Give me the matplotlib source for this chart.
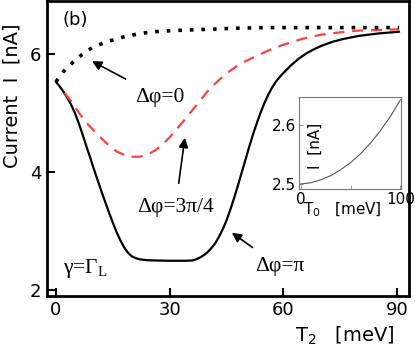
import matplotlib.pyplot as plt

# main panel: current vs T2
t_pi = [0, 1, 2, 3, 4, 5, 6, 7, 8, 9, 10, 11, 12, 13, 14, 15, 16, 17, 18, 19, 20, 21, 22, 24, 26,
        30, 34, 36, 37, 38, 39, 40, 41, 42, 43, 44, 45, 46, 47, 48, 49, 50, 51, 52, 53, 54, 55,
        56, 57, 58, 59, 60, 62, 64, 66, 68, 70, 73, 76, 80, 85, 90.5]
i_pi = [5.53, 5.45, 5.36, 5.26, 5.14, 5.00, 4.83, 4.64, 4.44, 4.25, 4.05, 3.86, 3.67, 3.49, 3.31,
        3.14, 2.98, 2.84, 2.72, 2.63, 2.57, 2.54, 2.52, 2.505, 2.50, 2.495, 2.495, 2.50, 2.52,
        2.55, 2.59, 2.64, 2.71, 2.79, 2.90, 3.03, 3.18, 3.36, 3.56, 3.77, 3.99, 4.21, 4.43, 4.64,
        4.83, 5.01, 5.17, 5.31, 5.43, 5.53, 5.61, 5.68, 5.81, 5.92, 6.01, 6.08, 6.14, 6.21, 6.26,
        6.31, 6.35, 6.38]

t_3pi4 = [2.3, 4, 6, 8, 10, 12, 14, 16, 18, 20, 22, 24, 26, 28, 30, 32, 34, 36, 38, 40, 42, 44,
          46, 48, 50, 53, 56, 60, 65, 70, 75, 80, 85, 90.5]
i_3pi4 = [5.34, 5.20, 5.01, 4.84, 4.70, 4.57, 4.45, 4.35, 4.29, 4.26, 4.26, 4.29, 4.36, 4.46,
          4.59, 4.74, 4.89, 5.05, 5.21, 5.37, 5.50, 5.62, 5.72, 5.81, 5.88, 5.97, 6.06, 6.16,
          6.26, 6.33, 6.37, 6.40, 6.41, 6.42]

t_0 = [0, 1.9, 4.6, 7.2, 9.8, 13.4, 17.7, 22.2, 26, 30.9, 35, 39.8, 47.7, 55, 65, 75, 90.5]
i_0 = [5.53, 5.70, 5.87, 6.01, 6.12, 6.21, 6.29, 6.35, 6.38, 6.40, 6.41, 6.42, 6.44, 6.45, 6.45,
       6.45, 6.45]

# inset: current vs T0
t0_in = [0, 10, 20, 30, 40, 50, 60, 70, 80, 90, 100]
i_in = [2.500, 2.502, 2.507, 2.514, 2.524, 2.536, 2.551, 2.569, 2.590, 2.614, 2.642]

serif = "Liberation Serif"

fig = plt.figure(figsize=(4.15, 3.56), dpi=100)
ax = fig.add_axes([0.113, 0.169, 0.873, 0.828])

ax.plot(t_pi, i_pi, color="black", lw=1.6)
ax.plot(t_3pi4, i_3pi4, color="#ff4040", lw=1.6, dashes=(5, 3.5))
ax.plot(t_0, i_0, color="black", lw=2.6, linestyle=(0, (1, 2.2)))

ax.set_xlim(-2.4, 93.2)
ax.set_ylim(1.9, 6.9)
ax.set_xticks([0, 30, 60, 90])
ax.set_yticks([2, 4, 6])
ax.tick_params(direction="in", length=6, width=1.5, labelsize=13, pad=4)
for s in ax.spines.values():
    s.set_linewidth(2)
ax.set_xlabel("T$_\\mathregular{2}$   [meV]", fontsize=14)
ax.xaxis.label.set_va("center")
ax.xaxis.set_label_coords(0.823, -0.135)
ax.set_ylabel("Current  I  [nA]", fontsize=14)
ax.yaxis.label.set_va("center")
ax.yaxis.set_label_coords(-0.097, 0.678)

ax.text(5, 6.58, "(b)", fontsize=13, ha="center", va="center")
arrow = dict(arrowstyle="-|>", color="black", lw=1.2, shrinkA=9, shrinkB=0, mutation_scale=14)
ax.annotate("Δφ=0", xy=(9.5, 5.88), xytext=(27.4, 5.27), fontsize=15.5, family=serif,
            ha="center", va="center", arrowprops=arrow)
ax.annotate("Δφ=3π/4", xy=(34, 4.58), xytext=(31.5, 3.39), fontsize=15.5, family=serif,
            ha="center", va="center", arrowprops=arrow)
ax.annotate("Δφ=π", xy=(46.4, 2.97), xytext=(59.1, 2.39), fontsize=15.5, family=serif,
            ha="center", va="center", arrowprops=arrow)
ax.text(7.7, 2.36, "γ=Γ$_\\mathregular{L}$", fontsize=15.5, family=serif, ha="center", va="center")

# inset
axin = fig.add_axes([0.72, 0.469, 0.246, 0.259])
axin.plot(t0_in, i_in, color="#555555", lw=0.8)
axin.set_xlim(-2, 100.5)
axin.set_ylim(2.4915, 2.647)
axin.set_xticks([0, 50, 100])
axin.set_xticklabels(["0", "", "100"])
axin.set_yticks([2.5, 2.6])
axin.tick_params(direction="in", length=3, width=0.6, labelsize=11, pad=2, colors="#888888",
                 labelcolor="black")
for s in axin.spines.values():
    s.set_linewidth(0.8)
    s.set_color("#777777")
axin.text(0.157, 0.47, "I  [nA]", transform=axin.transAxes, rotation=90, fontsize=11,
          ha="center", va="center")
axin.text(0.43, -0.23, "T$_\\mathregular{0}$   [meV]", transform=axin.transAxes, fontsize=11,
          ha="center", va="center")

fig.savefig("out.png", dpi=100)
